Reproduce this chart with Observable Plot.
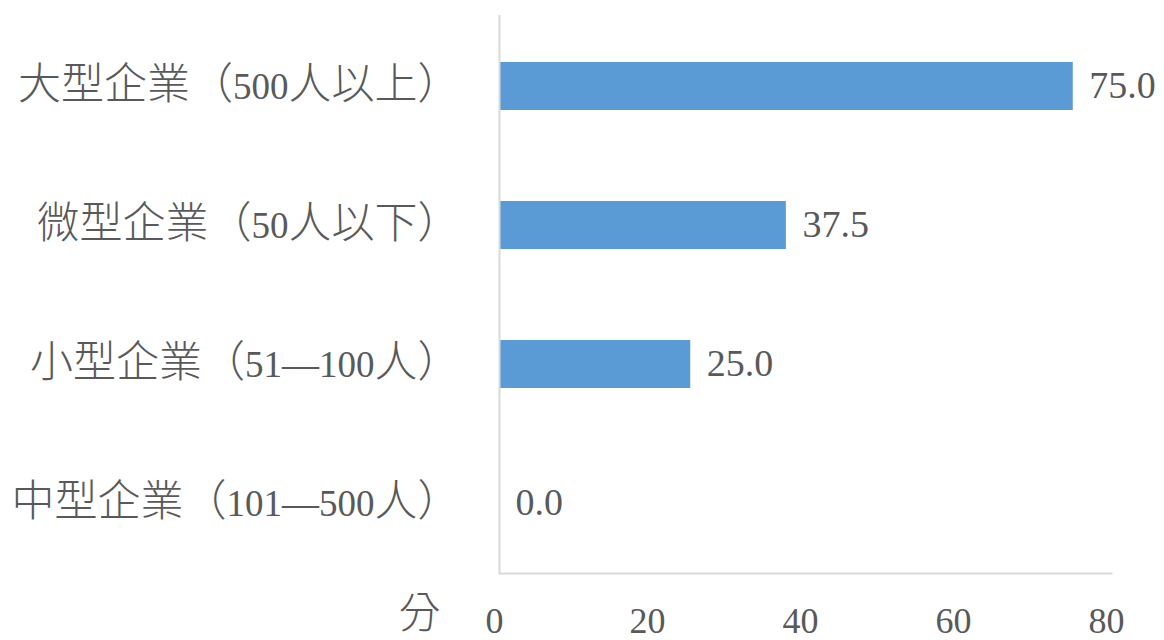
<!DOCTYPE html>
<html>
<head>
<meta charset="utf-8">
<script src="https://cdn.jsdelivr.net/npm/d3@7"></script>
<script src="https://cdn.jsdelivr.net/npm/@observablehq/plot@0.6"></script>
<style>
  html, body { margin: 0; padding: 0; background: #fff; }
</style>
</head>
<body>
<div id="chart"></div>
<script>
const categories = ["大型企業（500人以上）", "微型企業（50人以下）", "小型企業（51—100人）", "中型企業（101—500人）"];
const values = [75.0, 37.5, 25.0, 0.0];
const xTicks = [0, 20, 40, 60, 80];
const unitLabel = "分";

const data = categories.map((c, i) => ({category: c, value: values[i]}));
const fontFam = "'Liberation Serif', 'Noto Sans CJK TC', serif";
const grey = "#595959";

const chart = Plot.plot({
  width: 1164,
  height: 640,
  marginLeft: 499,
  marginRight: 53,
  marginTop: 15,
  marginBottom: 67,
  style: {fontSize: "36px", fontFamily: fontFam, color: grey, background: "#fff"},
  x: {domain: [0, 80], ticks: xTicks, label: null},
  y: {domain: categories, paddingInner: 0.656, paddingOuter: 0.328, label: null},
  marks: [
    Plot.barX(data, {x: "value", y: "category", fill: "#5B9BD5"}),
    Plot.ruleX([0], {stroke: "#d9d9d9", strokeWidth: 2}),
    Plot.frame({anchor: "bottom", stroke: "#d9d9d9", strokeWidth: 2}),
    Plot.text(data, {x: "value", y: "category", text: d => d.value.toFixed(1), textAnchor: "start", dx: 16, dy: -1, fill: grey, fontSize: 38, fontFamily: fontFam}),
    Plot.axisX({ticks: xTicks, tickSize: 0, tickPadding: 34, dx: -5, fontSize: 36, fontFamily: fontFam, label: null}),
    Plot.axisY({tickSize: 0, tickPadding: 39, dy: -1, fontSize: 43, fontWeight: 300, fontFamily: fontFam, label: null}),
    Plot.text([unitLabel], {frameAnchor: "bottom-left", dx: -101, dy: 54, fill: grey, fontSize: 42, fontWeight: 300, fontFamily: "'Noto Sans CJK TC', sans-serif"})
  ]
});

// narrower Latin digits inside the category labels (styling only)
d3.select(chart).selectAll("g[aria-label='y-axis tick label'] text").each(function() {
  const t = d3.select(this);
  const s = t.text();
  const parts = s.match(/[0-9—]+|[^0-9—]+/g) || [s];
  t.text(null);
  parts.forEach(p => {
    const sp = t.append("tspan").text(p);
    if (/[0-9—]/.test(p)) sp.attr("font-size", 37).attr("font-weight", 400);
  });
});

document.getElementById("chart").appendChild(chart);
</script>
</body>
</html>
